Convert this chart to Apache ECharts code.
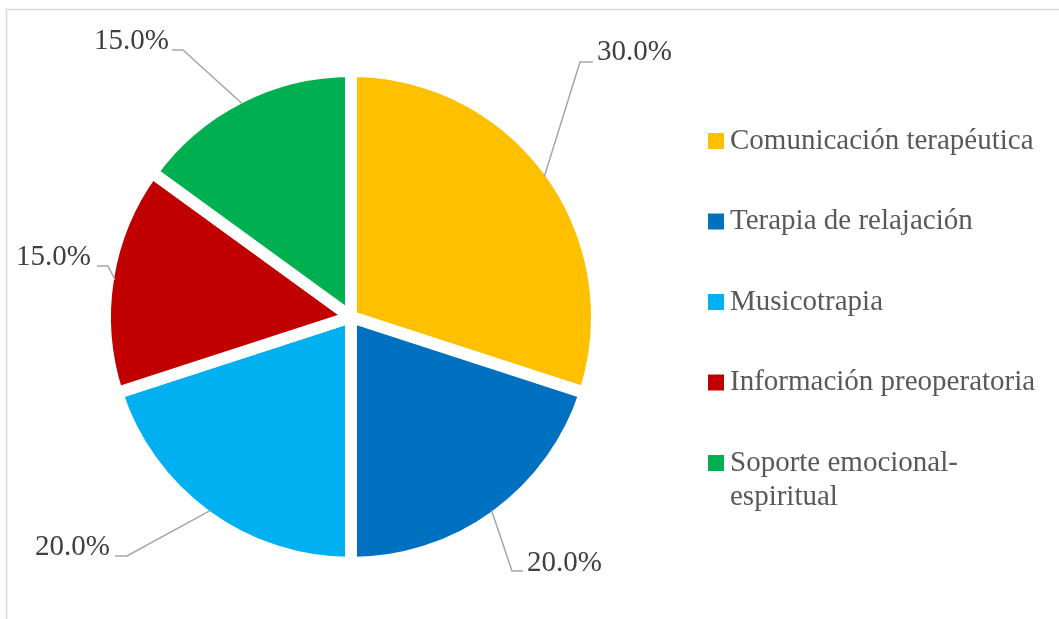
<!DOCTYPE html>
<html><head><meta charset="utf-8">
<script src="https://cdn.jsdelivr.net/npm/echarts@6/dist/echarts.min.js"></script>
<style>html,body{margin:0;padding:0;background:#fff}#c{width:1059px;height:619px}</style>
</head><body><div id="c"></div>
<script>
const categories = ['Comunicación terapéutica', 'Terapia de relajación', 'Musicotrapia', 'Información preoperatoria', 'Soporte emocional-espiritual'];
const percentages = [30.0, 20.0, 20.0, 15.0, 15.0];
const colors = ['#FFC000', '#0070C0', '#00B0F0', '#C00000', '#00B050'];

// label placement (layout only), index-aligned with categories
const labelPlacement = [
  {tx: 597, ty: 52, align: 'left', elbow: [580, 62], end: [593, 62]},
  {tx: 527, ty: 563, align: 'left', elbow: [512, 571], end: [523, 571]},
  {tx: 110, ty: 547, align: 'right', elbow: [127, 556], end: [115, 556]},
  {tx: 91, ty: 257, align: 'right', elbow: [108, 266], end: [97, 266]},
  {tx: 169, ty: 41, align: 'right', elbow: [183, 50], end: [172, 50]}
];

const PIE_CENTER = [351, 317];
const PIE_RADIUS = 246;
const LINE_START_R = 239;

const chart = echarts.init(document.getElementById('c'), null, {renderer: 'canvas'});
const FONT = 'Liberation Serif';
const legendText = {fontFamily: FONT, fontSize: 29, color: '#595959', lineHeight: 34};
const lastIdx = categories.length - 1;
const pieData = categories.map((n, i) => ({name: n, value: percentages[i]}));

chart.setOption({
  animation: false,
  backgroundColor: '#fff',
  color: colors,
  graphic: [{
    type: 'rect', silent: true, z: -1,
    shape: {x: 6.5, y: 9.5, width: 1200, height: 800},
    style: {fill: 'none', stroke: '#D9D9D9', lineWidth: 1.5}
  }],
  legend: [{
    orient: 'vertical', left: 706, top: 124, padding: 0,
    itemWidth: 18, itemHeight: 18, itemGap: 46.5, icon: 'rect',
    textStyle: legendText,
    data: categories.slice(0, lastIdx)
  }, {
    orient: 'vertical', left: 706, top: 446, padding: 0,
    itemWidth: 18, itemHeight: 52,
    icon: 'path://M0,0H18V18H0Z M0,51.99H0.01V52H0Z',
    textStyle: legendText,
    formatter: n => n.replace('-', '-\n'),
    data: categories.slice(lastIdx)
  }],
  series: [{
    type: 'pie',
    z: 2,
    center: PIE_CENTER,
    radius: PIE_RADIUS,
    startAngle: 90,
    clockwise: true,
    itemStyle: {borderColor: '#fff', borderWidth: 12},
    label: {show: false},
    labelLine: {show: false},
    emphasis: {disabled: true},
    data: pieData
  }, {
    // overlay carrying the data labels and leader lines above the slices
    type: 'pie',
    z: 3,
    silent: true,
    center: PIE_CENTER,
    radius: PIE_RADIUS,
    startAngle: 90,
    clockwise: true,
    avoidLabelOverlap: false,
    itemStyle: {color: 'rgba(0,0,0,0)', borderWidth: 0},
    label: {
      show: true, position: 'outside',
      fontFamily: FONT, fontSize: 29, color: '#404040',
      formatter: p => p.value.toFixed(1) + '%'
    },
    labelLine: {show: true, length: 10, length2: 10, lineStyle: {color: '#A6A6A6', width: 1.5}},
    labelLayout: function (params) {
      const c = labelPlacement[params.dataIndex];
      let start = c.elbow;
      if (params.labelLinePoints) {
        const p = params.labelLinePoints[0];
        const dx = p[0] - PIE_CENTER[0], dy = p[1] - PIE_CENTER[1];
        const d = Math.sqrt(dx * dx + dy * dy) || 1;
        start = [PIE_CENTER[0] + dx / d * LINE_START_R, PIE_CENTER[1] + dy / d * LINE_START_R];
      }
      return {
        x: c.tx, y: c.ty, align: c.align, verticalAlign: 'middle',
        labelLinePoints: [start, c.elbow, c.end]
      };
    },
    emphasis: {disabled: true},
    data: pieData
  }]
});
</script></body></html>
